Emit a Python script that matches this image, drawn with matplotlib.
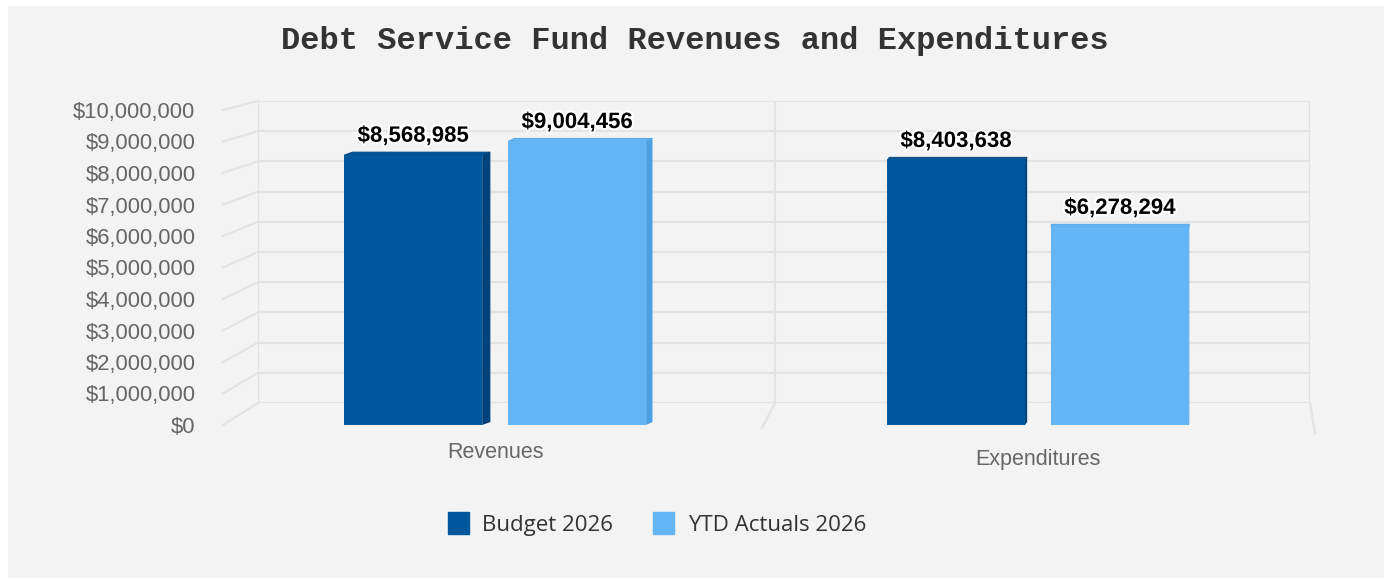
import numpy as np
import matplotlib.pyplot as plt
import matplotlib.patheffects as pe
from matplotlib.patches import Rectangle, Polygon, Patch
from matplotlib.lines import Line2D

# dados do grafico
categories = ['Revenues', 'Expenditures']
series_names = ['Budget 2026', 'YTD Actuals 2026']
budget = [8568985, 8403638]
actuals = [9004456, 6278294]
y_ticks = np.arange(0, 10_000_001, 1_000_000)

W, H = 1388, 582
dark, light = '#01579b', '#64b5f6'
dark_side, light_side = '#01427a', '#4c9fe2'
grid_c = '#e3e3e3'

plt.rcParams['font.family'] = ['Liberation Sans', 'DejaVu Sans']


def px_box(left, top, right, bottom):
    return [left / W, 1 - bottom / H, (right - left) / W, (bottom - top) / H]


fig = plt.figure(figsize=(W / 100, H / 100), dpi=100, facecolor='white')
fig.patches.append(Rectangle((8 / W, 4 / H), (1384 - 8) / W, (576 - 4) / H,
                             transform=fig.transFigure, facecolor='#f3f3f3',
                             edgecolor='none', zorder=-5))

# parede do fundo (grade em perspectiva)
wall = fig.add_axes(px_box(258, 101, 1310, 403))
wall.set_xlim(0, 1)
wall.set_ylim(0, 1e7)
wall.axis('off')
for v in y_ticks:
    wall.axhline(v, color=grid_c, lw=1.6, zorder=1)
for xv in [0, 0.4914, 1]:
    wall.axvline(xv, color=grid_c, lw=1.6, zorder=1)

# eixo da frente com as barras
ax = fig.add_axes(px_box(258, 110, 1310, 425))
ax.patch.set_visible(False)
ax.set_xlim(-0.437, 1.501)
ax.set_ylim(0, 1e7)
for s in ax.spines.values():
    s.set_visible(False)
ax.set_xticks([])
ax.set_yticks(y_ticks)
ax.set_yticklabels([f'${v:,.0f}' for v in y_ticks])
ax.tick_params(axis='y', length=0, pad=45, labelsize=15.8, labelcolor='#666666')

to_fig = fig.transFigure.inverted()

# linhas laterais (do rotulo ate a parede)
for v in y_ticks:
    pf = ax.transData.transform((ax.get_xlim()[0], v))
    pw = wall.transData.transform((0, v))
    a = to_fig.transform((pf[0] - 35, pf[1]))
    b = to_fig.transform(pw)
    fig.add_artist(Line2D([a[0], b[0]], [a[1], b[1]], color=grid_c, lw=1.6,
                          transform=fig.transFigure, zorder=-1))

# linhas do chao
y0 = ax.transData.transform((0, 0))[1]
for xv, dx, dy in [(0.4914, -13, -3), (1, 5, -8)]:
    pw = wall.transData.transform((xv, 0))
    a = to_fig.transform(pw)
    b = to_fig.transform((pw[0] + dx, y0 + dy))
    fig.add_artist(Line2D([a[0], b[0]], [a[1], b[1]], color=grid_c, lw=1.6,
                          transform=fig.transFigure, zorder=-1))

x = np.arange(len(categories))
width = 0.254
offs = [-0.151, 0.151]
unit_x = ax.transData.transform((1, 0))[0] - ax.transData.transform((0, 0))[0]
unit_y = (ax.transData.transform((0, 1e7))[1] - y0) / 1e7

for vals, off, col, side in [(budget, offs[0], dark, dark_side),
                             (actuals, offs[1], light, light_side)]:
    xs = x + off
    ax.bar(xs, vals, width=width, color=col, zorder=3)
    for xi, v in zip(xs, vals):
        xc = ax.transData.transform((xi, 0))[0]
        d = max(0.0, (1150 - xc) / 90) / unit_x
        dy = 3 / unit_y
        xr = xi + width / 2
        xl = xi - width / 2
        ax.add_patch(Polygon([(xr, 0), (xr, v), (xr + d, v + dy), (xr + d, dy)],
                             closed=True, facecolor=side, edgecolor='none', zorder=2))
        ax.add_patch(Polygon([(xl, v), (xr, v), (xr + d, v + dy), (xl + d, v + dy)],
                             closed=True, facecolor=col, edgecolor=side, lw=0.6, zorder=2))
        ax.annotate(f'${v:,.0f}', (xi, v), xytext=(0, 6), textcoords='offset points',
                    ha='center', va='bottom', fontsize=16, fontweight='bold', color='black',
                    path_effects=[pe.withStroke(linewidth=3, foreground='white')], zorder=5)

# rotulos das categorias
for xi, cat, dpx in zip(x, categories, [27, 35]):
    ax.annotate(cat, (xi, 0), xytext=(0, -dpx), textcoords='offset pixels',
                ha='center', va='center', fontsize=15.5, color='#666666')

# titulo
fig.text(695 / W, 1 - 41 / H, 'Debt Service Fund Revenues and Expenditures',
         ha='center', va='center', fontsize=23, fontweight='bold',
         family='Liberation Mono', color='#333333')

# legenda
leg = fig.legend(handles=[Patch(color=dark), Patch(color=light)], labels=series_names,
                 loc='center', bbox_to_anchor=(657 / W, 1 - 524 / H), ncol=2, frameon=False,
                 prop={'family': 'Open Sans', 'size': 16}, handlelength=0.95,
                 handleheight=1.1, handletextpad=0.6, columnspacing=1.8)
for t in leg.get_texts():
    t.set_color('#333333')

fig.savefig('out.png', dpi=100, facecolor='white')
